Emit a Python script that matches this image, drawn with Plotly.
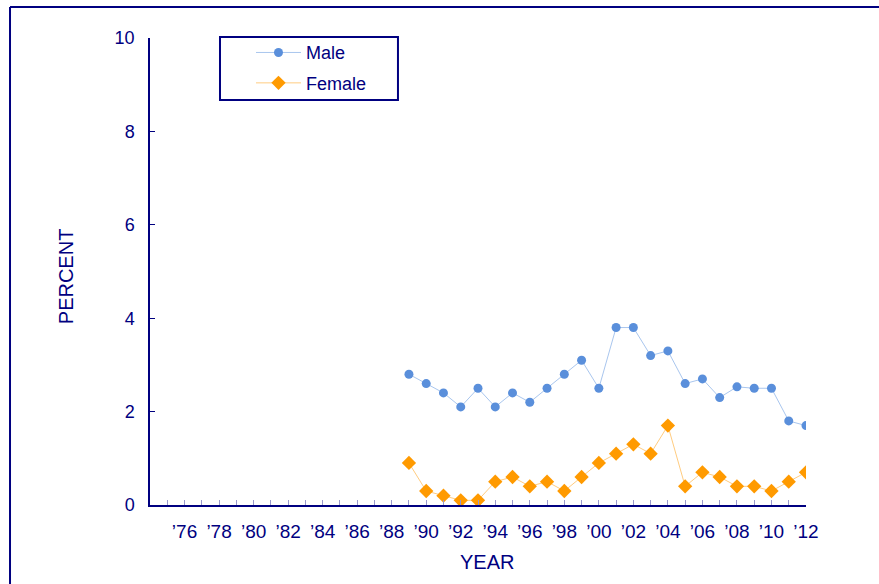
import plotly.graph_objects as go

years = list(range(1989, 2013))
male = [2.8, 2.6, 2.4, 2.1, 2.5, 2.1, 2.4, 2.2, 2.5, 2.8, 3.1, 2.5,
        3.8, 3.8, 3.2, 3.3, 2.6, 2.7, 2.3, 2.53, 2.5, 2.5, 1.8, 1.7]
female = [0.9, 0.3, 0.2, 0.1, 0.1, 0.5, 0.6, 0.4, 0.5, 0.3, 0.6, 0.9,
          1.1, 1.3, 1.1, 1.7, 0.4, 0.7, 0.6, 0.4, 0.4, 0.3, 0.5, 0.7]
tick_years = list(range(1975, 2013))
tick_labels = ["\u2019%02d" % (y % 100) if y % 2 == 0 and y >= 1976 else "" for y in tick_years]
y_ticks = [0, 2, 4, 6, 8, 10]

NAVY = "#000080"
FONT = "Liberation Sans, Arial, sans-serif"

fig = go.Figure()
fig.add_trace(go.Scatter(
    x=years, y=male, name="Male", mode="lines+markers", legendgroup="m",
    line=dict(color="#A9C6EE", width=1),
    marker=dict(symbol="circle", size=9, color="#5A8FDB"),
))
fig.add_trace(go.Scatter(
    x=years, y=female, name="Female", mode="lines+markers", legendgroup="f",
    line=dict(color="#FFCC80", width=1),
    marker=dict(symbol="diamond", size=11, color="#FF9A00"),
))

fig.update_layout(
    width=879, height=584,
    margin=dict(l=150, r=73, t=38, b=79),
    paper_bgcolor="white", plot_bgcolor="white",
    font=dict(family=FONT, color=NAVY, size=18),
    showlegend=True,
    legend=dict(
        x=0.1067, y=1.008, xanchor="left", yanchor="top",
        borderwidth=0, bgcolor="rgba(0,0,0,0)",
        font=dict(size=18, color=NAVY, family=FONT),
        traceorder="grouped", tracegroupgap=4, indentation=31, itemwidth=45,
    ),
    xaxis=dict(
        range=[1974, 2012], tickmode="array", tickvals=tick_years, ticktext=tick_labels,
        ticks="inside", ticklen=5, tickcolor="#9999CC", tickwidth=1,
        showline=True, linecolor=NAVY, linewidth=1.5, showgrid=False, zeroline=False,
        tickfont=dict(size=19, color=NAVY), ticklabelstandoff=8,
    ),
    yaxis=dict(
        range=[0, 10], tickmode="array", tickvals=y_ticks,
        ticks="inside", ticklen=5, tickcolor=NAVY, tickwidth=1,
        showline=True, linecolor=NAVY, linewidth=1.5, showgrid=False, zeroline=False,
        tickfont=dict(size=18, color=NAVY), ticklabelstandoff=10,
    ),
    annotations=[
        dict(text="YEAR", xref="paper", yref="paper", x=0.5137, y=-0.122,
             xanchor="center", yanchor="middle", showarrow=False,
             font=dict(size=20, color=NAVY, family=FONT)),
        dict(text="PERCENT", xref="paper", yref="paper", x=-0.128, y=0.49,
             xanchor="center", yanchor="middle", showarrow=False, textangle=-90,
             font=dict(size=20, color=NAVY, family=FONT)),
    ],
    shapes=[
        dict(type="line", xref="paper", yref="paper", x0=-0.2134, x1=1.2, y0=1.0664, y1=1.0664,
             line=dict(color=NAVY, width=2)),
        dict(type="line", xref="paper", yref="paper", x0=-0.2134, x1=-0.2134, y0=-0.3, y1=1.0664,
             line=dict(color=NAVY, width=2)),
        dict(type="rect", xref="paper", yref="paper", x0=0.1067, x1=0.378, y0=0.867, y1=1.002,
             line=dict(color=NAVY, width=2), fillcolor="rgba(0,0,0,0)"),
    ],
)

fig.write_html("out.html", config={"displayModeBar": False},
               post_script="document.body.style.margin='0px';")
